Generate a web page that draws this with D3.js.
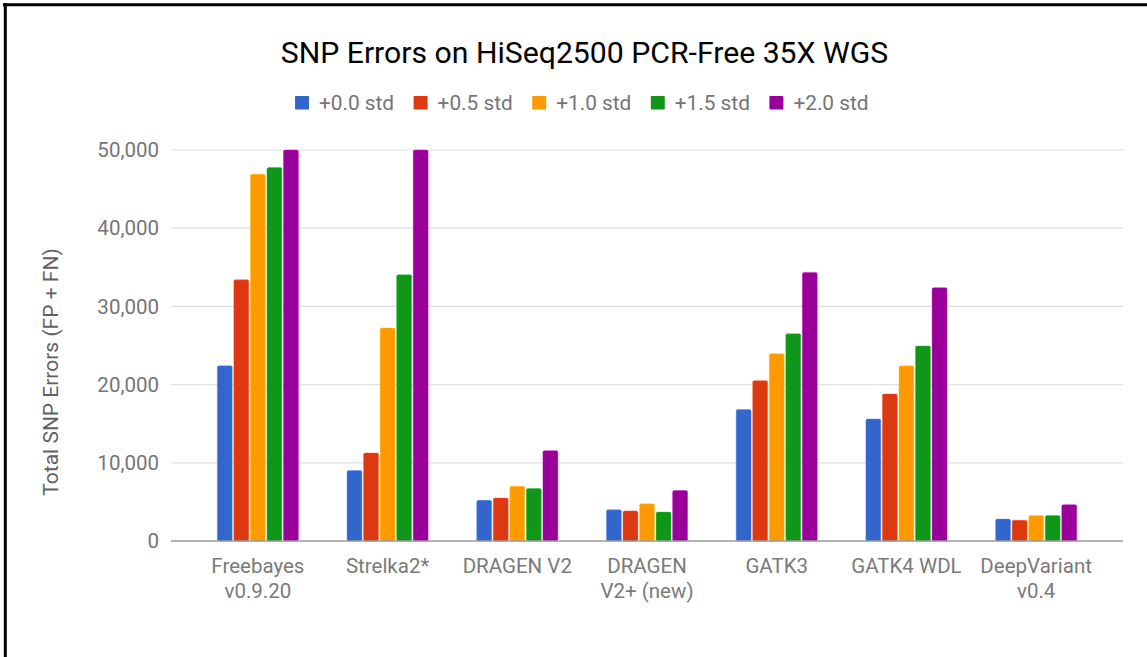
<!DOCTYPE html>
<html>
<head>
<meta charset="utf-8">
<script src="https://cdn.jsdelivr.net/npm/d3@7"></script>
<style>
  html, body { margin: 0; padding: 0; background: #fff; }
  svg { display: block; }
  text { font-family: Roboto, "Noto Sans", sans-serif; }
</style>
</head>
<body>
<div id="chart"></div>
<script>
// SNP errors per caller, one array per std threshold
const CATEGORIES = [
  ['Freebayes', 'v0.9.20'],
  ['Strelka2*'],
  ['DRAGEN V2'],
  ['DRAGEN', 'V2+ (new)'],
  ['GATK3'],
  ['GATK4 WDL'],
  ['DeepVariant', 'v0.4']
];
const SERIES = ['+0.0 std', '+0.5 std', '+1.0 std', '+1.5 std', '+2.0 std'];
const COLORS = ['#3366cc', '#dc3912', '#ff9900', '#109618', '#990099'];

const STD_00 = [22400, 9000, 5200, 4000, 16800, 15600, 2800];
const STD_05 = [33400, 11250, 5500, 3850, 20500, 18800, 2650];
const STD_10 = [46900, 27250, 7000, 4750, 23950, 22400, 3250];
const STD_15 = [47750, 34050, 6700, 3700, 26500, 24950, 3250];
const STD_20 = [50000, 50000, 11550, 6450, 34350, 32400, 4650]; // first two run off the top
const VALUES = [STD_00, STD_05, STD_10, STD_15, STD_20];

const Y_TICKS = [0, 10000, 20000, 30000, 40000, 50000];

const W = 1147, H = 657;
const plot = { left: 171, right: 1123, top: 150, bottom: 541 };

const svg = d3.select('#chart').append('svg').attr('width', W).attr('height', H);

// frame (top + left edges visible in the crop)
svg.append('line').attr('x1', 3).attr('x2', W).attr('y1', 4.7).attr('y2', 4.7)
  .attr('stroke', '#000').attr('stroke-width', 3);
svg.append('line').attr('x1', 5.3).attr('x2', 5.3).attr('y1', 3).attr('y2', H)
  .attr('stroke', '#000').attr('stroke-width', 3);

const y = d3.scaleLinear().domain([0, 50000]).range([plot.bottom, plot.top]).clamp(true);
const x0 = d3.scaleBand().domain(d3.range(CATEGORIES.length))
  .range([193, 1101]).paddingInner(0.375).paddingOuter(0.1875);
const x1 = d3.scaleBand().domain(d3.range(SERIES.length))
  .range([0, x0.bandwidth()]).paddingInner(0.1);

// gridlines
svg.append('g').selectAll('line').data(Y_TICKS.filter(d => d > 0)).join('line')
  .attr('x1', plot.left).attr('x2', plot.right)
  .attr('y1', d => y(d)).attr('y2', d => y(d))
  .attr('stroke', '#e0e0e0').attr('stroke-width', 1.2);

// y tick labels
const fmt = d3.format(',');
svg.append('g').selectAll('text').data(Y_TICKS).join('text')
  .attr('x', 159).attr('y', d => y(d)).attr('dy', '0.35em')
  .attr('text-anchor', 'end').attr('font-size', 20.5).attr('fill', '#757575')
  .text(d => fmt(d));

// bars
const groups = svg.append('g').selectAll('g').data(CATEGORIES).join('g')
  .attr('transform', (d, i) => `translate(${x0(i)},0)`);
groups.selectAll('rect')
  .data((d, i) => VALUES.map((s, k) => ({ k, v: s[i] })))
  .join('rect')
  .attr('x', d => x1(d.k)).attr('width', x1.bandwidth())
  .attr('y', d => y(d.v)).attr('height', d => y(0) - y(d.v))
  .attr('rx', 1.5)
  .attr('fill', d => COLORS[d.k])
  .attr('stroke', d => d3.color(COLORS[d.k]).brighter(0.8)).attr('stroke-opacity', 0.5)
  .attr('stroke-width', 0.8);

// baseline
svg.append('line').attr('x1', plot.left).attr('x2', plot.right)
  .attr('y1', y(0)).attr('y2', y(0))
  .attr('stroke', '#999').attr('stroke-width', 1.6);

// x labels
svg.append('g').selectAll('text').data(CATEGORIES).join('text')
  .attr('text-anchor', 'middle').attr('font-size', 20.5).attr('fill', '#7a7a7a')
  .attr('transform', (d, i) => `translate(${x0(i) + x0.bandwidth() / 2},573)`)
  .each(function (d) {
    d3.select(this).selectAll('tspan').data(d).join('tspan')
      .attr('x', 0).attr('dy', (t, j) => j === 0 ? 0 : 25).text(t => t);
  });

// y axis title
svg.append('text')
  .attr('transform', 'translate(58,372) rotate(-90)')
  .attr('text-anchor', 'middle').attr('font-size', 21).attr('fill', '#616161')
  .text('Total SNP Errors (FP + FN)');

// title
svg.append('text')
  .attr('x', 584.5).attr('y', 63)
  .attr('text-anchor', 'middle')
  .attr('font-family', '"Liberation Sans", Arial, sans-serif')
  .attr('font-size', 30.2).attr('fill', '#000')
  .text('SNP Errors on HiSeq2500 PCR-Free 35X WGS');

// legend
const legend = svg.append('g').attr('transform', 'translate(295,96)');
const items = legend.selectAll('g').data(SERIES).join('g')
  .attr('transform', (d, i) => `translate(${i * 118.6},0)`);
items.append('rect').attr('width', 14).attr('height', 13.5).attr('rx', 1)
  .attr('fill', (d, i) => COLORS[i]);
items.append('text').attr('x', 24).attr('y', 14)
  .attr('font-size', 20.8).attr('fill', '#757575').text(d => d);
</script>
</body>
</html>
